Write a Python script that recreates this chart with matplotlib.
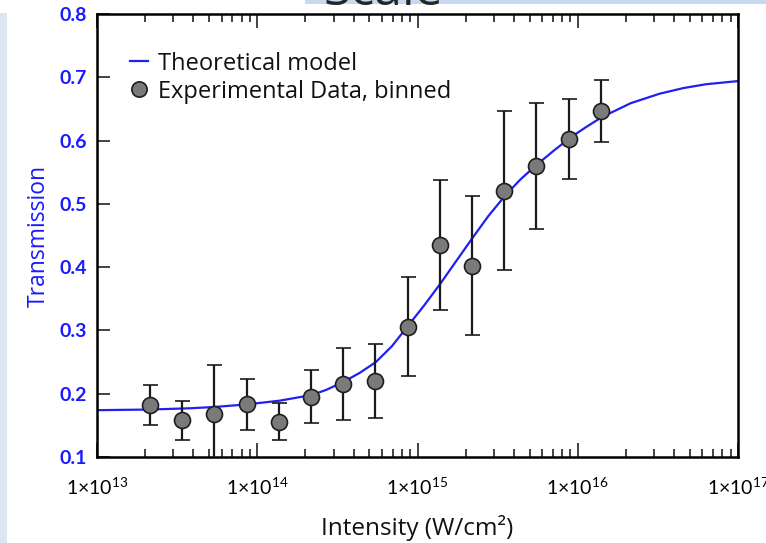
import numpy as np
import matplotlib
matplotlib.use("Agg")
import matplotlib.pyplot as plt
from matplotlib.lines import Line2D
from matplotlib.patches import Rectangle
from matplotlib.ticker import FixedLocator, FuncFormatter, LogLocator, NullFormatter

# Binned measurements
intensity = [2.14e13, 3.40e13, 5.40e13, 8.57e13, 1.36e14, 2.16e14, 3.44e14, 5.46e14,
             8.67e14, 1.38e15, 2.19e15, 3.48e15, 5.52e15, 8.77e15, 1.39e16]
transmission = [0.182, 0.158, 0.168, 0.183, 0.156, 0.195, 0.216, 0.220,
                0.306, 0.435, 0.402, 0.521, 0.560, 0.602, 0.646]
transmission_err = [0.031, 0.031, 0.078, 0.040, 0.029, 0.042, 0.057, 0.059,
                    0.078, 0.103, 0.110, 0.125, 0.100, 0.063, 0.049]

# Theoretical model, sampled in log10(intensity)
model_log_intensity = [13.00, 13.33, 13.58, 13.73, 13.93, 14.14, 14.34, 14.43, 14.54,
                       14.64, 14.74, 14.84, 14.94, 15.04, 15.14, 15.24, 15.34, 15.44,
                       15.54, 15.64, 15.74, 15.85, 15.95, 16.05, 16.15, 16.33, 16.51,
                       16.66, 16.80, 17.00]
model_transmission = [0.174, 0.175, 0.177, 0.179, 0.183, 0.189, 0.198, 0.206, 0.219,
                      0.233, 0.250, 0.275, 0.307, 0.339, 0.373, 0.409, 0.445, 0.480,
                      0.511, 0.538, 0.561, 0.584, 0.604, 0.621, 0.637, 0.659, 0.674,
                      0.683, 0.689, 0.694]

x_major = [1e13, 1e14, 1e15, 1e16, 1e17]
y_ticks = [0.1, 0.2, 0.3, 0.4, 0.5, 0.6, 0.7, 0.8]

plt.rcParams['font.family'] = ['Lato', 'DejaVu Sans']
plt.rcParams['mathtext.fontset'] = 'custom'
plt.rcParams['mathtext.rm'] = 'Lato'
plt.rcParams['mathtext.it'] = 'Lato:italic'
plt.rcParams['mathtext.bf'] = 'Lato:bold'

W, H = 766, 543
fig = plt.figure(figsize=(W / 100, H / 100), dpi=100)

# slide background pieces
fig.patches.append(Rectangle((0, 0), 7 / W, 1 - 13 / H, transform=fig.transFigure,
                             facecolor='#dce6f2', edgecolor='none', zorder=0))
fig.patches.append(Rectangle((305 / W, 1 - 4 / H), 1, 4 / H, transform=fig.transFigure,
                             facecolor='#c6d9f1', edgecolor='none', zorder=0))
fig.text(323 / W, 1 - 5 / H, 'Scale', fontsize=36, family=['Open Sans', 'DejaVu Sans'],
         color='#262626', ha='left', va='baseline', zorder=1)

ax = fig.add_axes([97 / W, 1 - 457 / H, 641 / W, 443 / H])
ax.set_xscale('log')

blue = '#1a1aff'
line_blue = '#2020f0'
ax.plot(np.power(10.0, model_log_intensity), model_transmission, color=line_blue,
        lw=1.6, zorder=2)
ax.errorbar(intensity, transmission, yerr=transmission_err, fmt='o', ms=11.5,
            mfc='#7a7a7a', mec='#1e1e1e', mew=1.2, ecolor='#1a1a1a', elinewidth=1.6,
            capsize=5.4, capthick=1.6, zorder=3)

ax.set_xlim(1e13, 1e17)
ax.set_ylim(0.1, 0.8)

ax.xaxis.set_major_locator(FixedLocator(x_major))
ax.xaxis.set_minor_locator(LogLocator(base=10, subs=np.arange(2, 10)))
ax.xaxis.set_minor_formatter(NullFormatter())
ax.xaxis.set_major_formatter(FuncFormatter(
    lambda v, p: '1×10$^{%d}$' % int(round(np.log10(v)))))
ax.set_yticks(y_ticks)
ax.yaxis.set_major_formatter(FuncFormatter(lambda v, p: '%.1f' % v))

ax.tick_params(axis='x', which='both', direction='in', top=True, bottom=True,
               width=1.2, color='#222222', labelsize=14, pad=14)
ax.tick_params(axis='x', which='major', length=10)
ax.tick_params(axis='x', which='minor', length=5.8)
ax.tick_params(axis='y', which='both', direction='in', left=True, right=False,
               length=9.5, width=1.2, color='#222222', labelcolor=blue,
               labelsize=14, pad=7)
for lab in ax.get_yticklabels():
    lab.set_fontweight('bold')

for s in ax.spines.values():
    s.set_linewidth(1.8)
    s.set_color('black')

ax.set_xlabel('Intensity (W/cm²)', fontsize=17.5, family=['Open Sans', 'DejaVu Sans'],
              color='#111111')
ax.xaxis.set_label_coords(0.5, -0.132)
ax.set_ylabel('Transmission', fontsize=16.5, family=['Open Sans', 'DejaVu Sans'], color=blue)
ax.yaxis.set_label_coords(-0.072, 0.5)

handles = [Line2D([], [], color=line_blue, lw=1.6),
           Line2D([], [], ls='none', marker='o', ms=11, mfc='#7a7a7a', mec='#1e1e1e', mew=1.2)]
ax.legend(handles, ['Theoretical model', 'Experimental Data, binned'],
          loc='upper left', bbox_to_anchor=(0.0515, 0.915), frameon=False,
          borderpad=0, borderaxespad=0, handlelength=0.75, handletextpad=0.45,
          labelspacing=0.17, labelcolor='#111111',
          prop={'family': ['Open Sans', 'DejaVu Sans'], 'size': 17})

fig.savefig('out.png', dpi=100)
